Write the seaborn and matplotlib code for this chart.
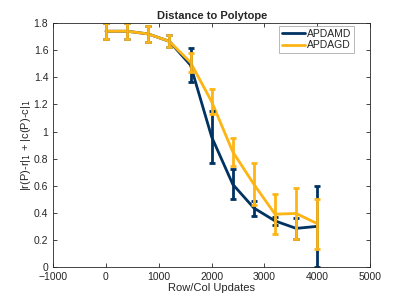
import numpy as np
import pandas as pd
import seaborn as sns
import matplotlib.pyplot as plt

sns.set_style("white")
plt.rcParams['font.family'] = ['Liberation Sans', 'DejaVu Sans']

# data
updates = [0, 400, 800, 1200, 1600, 2000, 2400, 2800, 3200, 3600, 4000]
apdamd = [1.74, 1.74, 1.72, 1.665, 1.49, 0.96, 0.61, 0.435, 0.34, 0.285, 0.30]
apdamd_err = [0.06, 0.06, 0.06, 0.045, 0.125, 0.19, 0.11, 0.055, 0.03, 0.075, 0.30]
apdagd = [1.74, 1.74, 1.72, 1.665, 1.51, 1.22, 0.85, 0.61, 0.39, 0.395, 0.32]
apdagd_err = [0.06, 0.06, 0.06, 0.045, 0.07, 0.09, 0.105, 0.155, 0.15, 0.185, 0.185]

blue = '#003262'
gold = '#FDB515'

df = pd.concat([
    pd.DataFrame({'x': updates, 'y': apdamd, 'err': apdamd_err, 'method': 'APDAMD'}),
    pd.DataFrame({'x': updates, 'y': apdagd, 'err': apdagd_err, 'method': 'APDAGD'}),
])

fig = plt.figure(figsize=(4.09, 3.0), dpi=100)
ax = fig.add_axes([0.13, 0.11, 0.775, 0.813])

sns.lineplot(data=df, x='x', y='y', hue='method', palette=[blue, gold],
             linewidth=2, ax=ax, legend=True)
for name, col in [('APDAMD', blue), ('APDAGD', gold)]:
    d = df[df['method'] == name]
    ax.errorbar(d['x'], d['y'], yerr=d['err'], fmt='none', ecolor=col,
                elinewidth=2, capsize=2.5, capthick=2)

ax.set_xlim(-1000, 5000)
ax.set_ylim(0, 1.8)
ax.set_xticks(np.arange(-1000, 5001, 1000))
ax.set_yticks(np.arange(0, 1.81, 0.2))
ax.set_yticklabels(['0', '0.2', '0.4', '0.6', '0.8', '1', '1.2', '1.4', '1.6', '1.8'])
ax.tick_params(direction='in', length=3, width=0.6, colors='#262626',
               labelsize=7.5, top=True, right=True, bottom=True, left=True)
for s in ax.spines.values():
    s.set_color('#262626')
    s.set_linewidth(0.6)

ax.set_title('Distance to Polytope', fontsize=8, fontweight='bold', pad=3)
ax.set_xlabel('Row/Col Updates', fontsize=8, color='#262626', labelpad=1)
ax.set_ylabel(r'|r(P)-r|$_1$ + |c(P)-c|$_1$', fontsize=8, color='#262626', labelpad=0.5)

leg = ax.legend(loc='upper right', bbox_to_anchor=(0.95, 0.99), fontsize=7.5,
                frameon=True, fancybox=False, handlelength=2.2, borderpad=0.3,
                labelspacing=0.15, handletextpad=0.2, borderaxespad=0)
leg.get_frame().set_edgecolor('#999999')
leg.get_frame().set_linewidth(0.6)

fig.savefig('out.png', dpi=100)
